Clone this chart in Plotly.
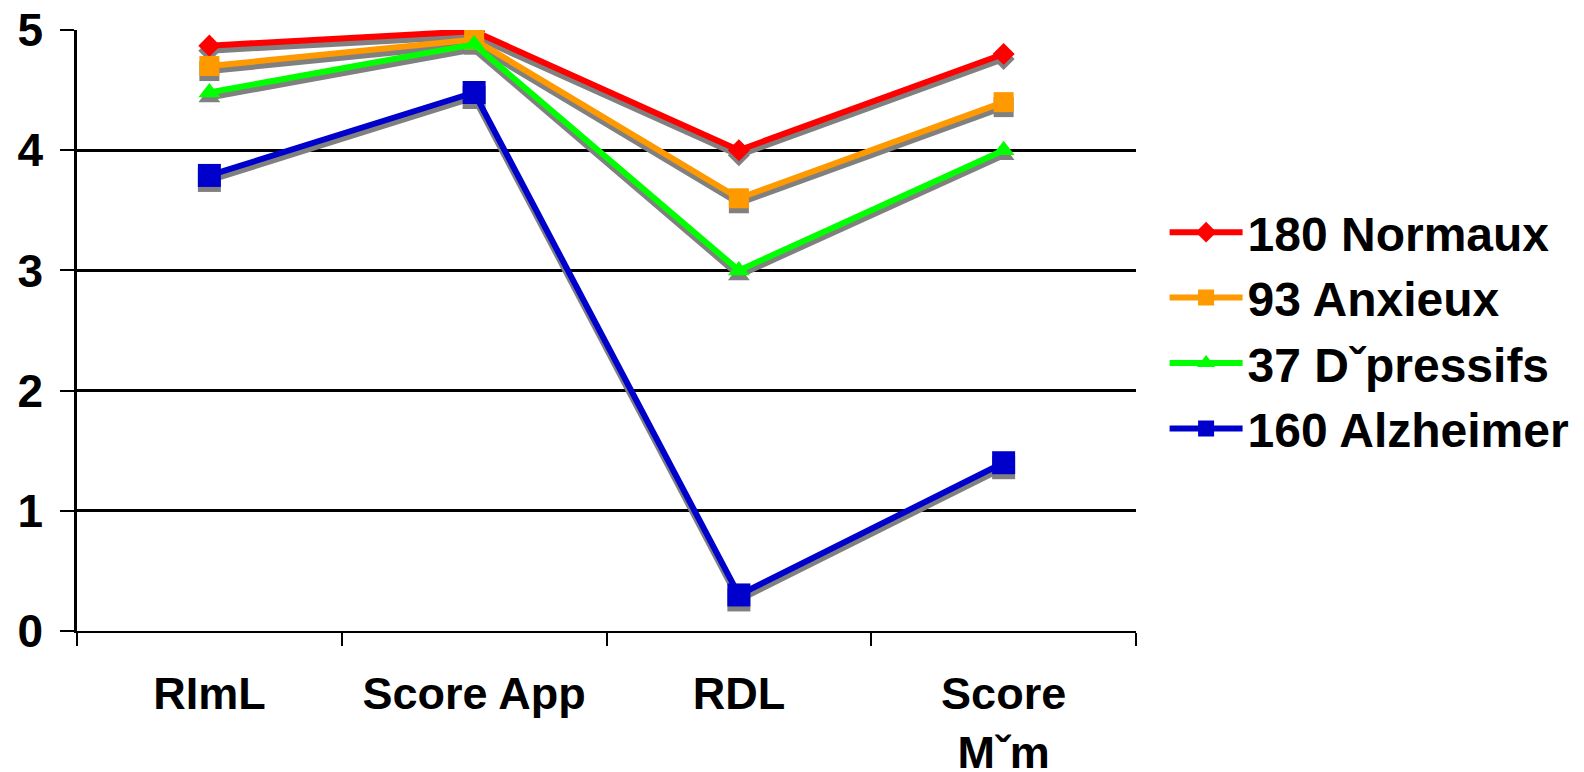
import plotly.graph_objects as go

# Categories and mean scores per group
categories = ["RImL", "Score App", "RDL", "Score<br>Mˇm"]
normaux = [4.87, 4.99, 4.0, 4.8]
anxieux = [4.70, 4.92, 3.6, 4.4]
depressifs = [4.48, 4.88, 3.0, 4.0]
alzheimer = [3.79, 4.48, 0.3, 1.4]

series = [
    ("180 Normaux", normaux, "#FF0000", "diamond", 17),
    ("93 Anxieux", anxieux, "#FF9900", "square", 20),
    ("37 Dˇpressifs", depressifs, "#00FF00", "triangle-up", 19),
    ("160 Alzheimer", alzheimer, "#0000CC", "square", 23),
]

W, H = 1584, 772
ML, MR, MT, MB = 77, 448, 30, 141
plot_h = H - MT - MB
y_range = [0, 5]
shadow_px = 5  # drop-shadow offset in pixels
dy = shadow_px * (y_range[1] - y_range[0]) / plot_h

FONT = dict(family="Liberation Sans, Arial, sans-serif", color="black", weight="bold")

fig = go.Figure()

# Grey drop shadows on the base axes (range shifted by a few pixels)
for name, vals, color, sym, size in series:
    fig.add_trace(go.Scatter(
        x=categories, y=vals, mode="lines+markers", showlegend=False,
        line=dict(color="#808080", width=6),
        marker=dict(symbol=sym, size=size, color="#808080", line=dict(width=0)),
        xaxis="x", yaxis="y", hoverinfo="skip",
    ))

# Coloured series on the overlaying axes
for name, vals, color, sym, size in series:
    fig.add_trace(go.Scatter(
        x=categories, y=vals, mode="lines+markers", name=name,
        line=dict(color=color, width=6),
        marker=dict(symbol=sym, size=size, color=color, line=dict(width=0)),
        xaxis="x2", yaxis="y2",
    ))

fig.update_layout(
    width=W, height=H,
    margin=dict(l=ML, r=MR, t=MT, b=MB, autoexpand=False),
    paper_bgcolor="white", plot_bgcolor="white",
    font=FONT,
    showlegend=True,
    legend=dict(
        x=1.027, y=0.5, xanchor="left", yanchor="middle",
        font=dict(size=48, **FONT), itemwidth=73,
        bgcolor="rgba(0,0,0,0)",
    ),
    xaxis=dict(
        type="category", range=[-0.5, 3.5], visible=False, automargin=False,
    ),
    yaxis=dict(
        range=[y_range[0] + dy, y_range[1] + dy], visible=False, automargin=False,
    ),
    xaxis2=dict(
        type="category", range=[-0.5, 3.5], overlaying="x", anchor="y2",
        showgrid=False, showline=True, linecolor="black", linewidth=2,
        ticks="outside", tickson="boundaries", ticklen=13, tickwidth=2,
        tickcolor="black", ticklabelstandoff=22, automargin=False,
        tickfont=dict(size=45, **FONT),
    ),
    yaxis2=dict(
        range=y_range, overlaying="y", anchor="x2", side="left",
        dtick=1, showgrid=True, gridcolor="black", gridwidth=2.5,
        showline=True, linecolor="black", linewidth=2.5,
        ticks="outside", ticklen=14, tickwidth=2, tickcolor="black",
        ticklabelstandoff=8, zeroline=False, automargin=False,
        tickfont=dict(size=46, **FONT),
    ),
)

fig.write_html("out.html")
